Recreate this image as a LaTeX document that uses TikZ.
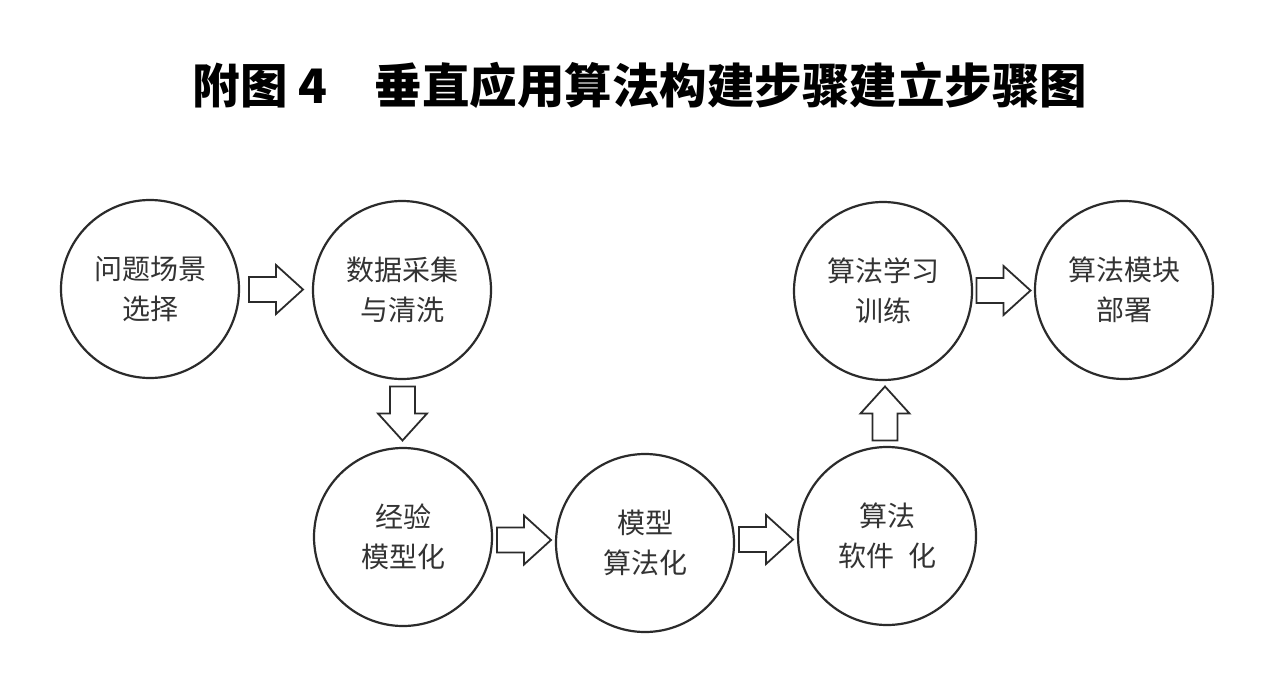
\documentclass[tikz,border=0pt]{standalone}
\usepackage{fontspec}
\newfontfamily\cjk{Noto Sans CJK SC}
\usetikzlibrary{calc}
\definecolor{ink}{HTML}{2B2B2B}
\definecolor{txt}{HTML}{333333}
\tikzset{
  stepnode/.style={circle, draw=ink, line width=2.2pt, minimum size=178pt, inner sep=0pt,
    align=center, font=\cjk\fontsize{28}{40}\selectfont, text=txt},
  arrowline/.style={draw=ink, line width=1.8pt, fill=white, line join=miter},
  barrow/.pic={\path[arrowline] (-27,-12.5) -- (0,-12.5) -- (0,-24.5) -- (27,0)
    -- (0,24.5) -- (0,12.5) -- (-27,12.5) -- cycle;}
}
\begin{document}
\begin{tikzpicture}[x=1pt,y=-1pt]
\useasboundingbox[fill=white] (0,0) rectangle (1273,687);
\node[font=\cjk\bfseries\fontsize{47.5}{48}\selectfont, text=black] (title) at (640,85)
  {附图 4\hspace{1em}垂直应用算法构建步骤建立步骤图};
\node[stepnode] (s1) at (150,289) {问题场景\\选择};
\node[stepnode] (s2) at (402,290) {数据采集\\与清洗};
\node[stepnode] (s3) at (403,537) {经验\\模型化};
\node[stepnode] (s4) at (645,543) {模型\\算法化};
\node[stepnode] (s5) at (887,536) {算法\\软件\enspace 化};
\node[stepnode] (s6) at (883,291) {算法学习\\训练};
\node[stepnode] (s7) at (1124,290) {算法模块\\部署};
\pic at ($(s1.east)!0.5!(s2.west)$) {barrow};
\pic[rotate=-90] at ($(s2.south)!0.5!(s3.north)$) {barrow};
\pic at ($(s3.east)!0.5!(s4.west)$) {barrow};
\pic at ($(s4.east)!0.5!(s5.west)$) {barrow};
\pic[rotate=90] at ($(s5.north)!0.5!(s6.south)$) {barrow};
\pic at ($(s6.east)!0.5!(s7.west)$) {barrow};
\end{tikzpicture}
\end{document}
